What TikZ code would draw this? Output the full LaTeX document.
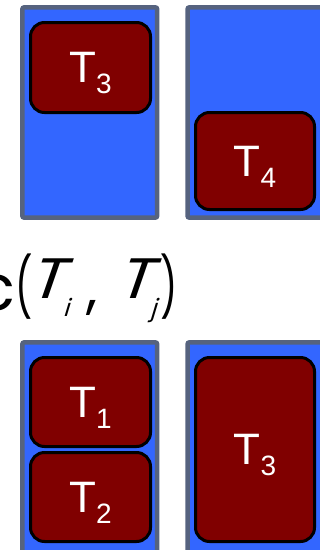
\documentclass[tikz,border=0pt]{standalone}
\usepackage{fontspec}
\setmainfont{Liberation Sans}
\newfontfamily\pop{Poppins}
\newfontfamily\popsl{Poppins}[FakeSlant=0.3]
\definecolor{cblue}{HTML}{3366FF}
\definecolor{cgrey}{HTML}{56637F}
\definecolor{cred}{HTML}{800000}
\newcommand{\tlab}[1]{\fontsize{44}{44}\selectfont T\raisebox{-11pt}{\fontsize{28}{28}\selectfont #1}}
\newcommand{\bigT}{\popsl\fontsize{57}{57}\selectfont\scalebox{1.15}[1]{T}}
\newcommand{\paren}[1]{\pop\fontsize{58.5}{58.5}\selectfont\scalebox{0.65}[1]{#1}}
\begin{document}
\begin{tikzpicture}[x=1pt,y=-1pt,
  cont/.style={draw=cgrey, fill=cblue, line width=4.5pt, rounded corners=2pt, inner sep=0pt, outer sep=0pt},
  tbox/.style={draw=black, fill=cred, line width=3pt, rounded corners=14pt, text=white, text depth=0pt, inner sep=0pt, outer sep=0pt},
  ftxt/.style={inner sep=0pt, outer sep=0pt, anchor=base west, text=black}]
\useasboundingbox (0,0) rectangle (320,550);
\clip (0,0) rectangle (320,550);
% containers
\node[cont, minimum width=134.9pt, minimum height=210.4pt] (c1) at (89.75,112.5) {};
\node[cont, minimum width=150pt, minimum height=210.4pt] (c2) at (262.5,112.5) {};
\node[cont, minimum width=134.9pt, minimum height=237.7pt] (c3) at (89.75,461.15) {};
\node[cont, minimum width=150pt, minimum height=237.7pt] (c4) at (262.5,461.15) {};
% tasks
\node[tbox, minimum width=120pt, minimum height=90pt] (ta3) at (90.5,67.5) {\tlab{3}};
\node[tbox, minimum width=119pt, minimum height=97pt] (ta4) at (255,161) {\tlab{4}};
\node[tbox, minimum width=120pt, minimum height=89pt] (tb1) at (90.5,402) {\tlab{1}};
\node[tbox, minimum width=120pt, minimum height=89pt] (tb2) at (90.5,497) {\tlab{2}};
\node[tbox, minimum width=119pt, minimum height=184pt] (tb3) at (255,449.5) {\tlab{3}};
% formula
\node[ftxt, anchor=base east] (fc) at (15,310) {\pop\fontsize{64}{64}\selectfont c};
\node[ftxt] (fl) at (15.8,308) {\paren{(}};
\node[ftxt] (fti) at (27.6,298) {\bigT};
\node[ftxt] (fi) at (63,316) {\popsl\fontsize{24}{24}\selectfont i};
\node[ftxt] (fcm) at (86,307) {\pop\fontsize{56}{56}\selectfont ,};
\node[ftxt] (ftj) at (115.9,298) {\bigT};
\node[ftxt] (fj) at (150,316) {\popsl\fontsize{24}{24}\selectfont j};
\node[ftxt] (fr) at (160.8,308) {\paren{)}};
\end{tikzpicture}
\end{document}
